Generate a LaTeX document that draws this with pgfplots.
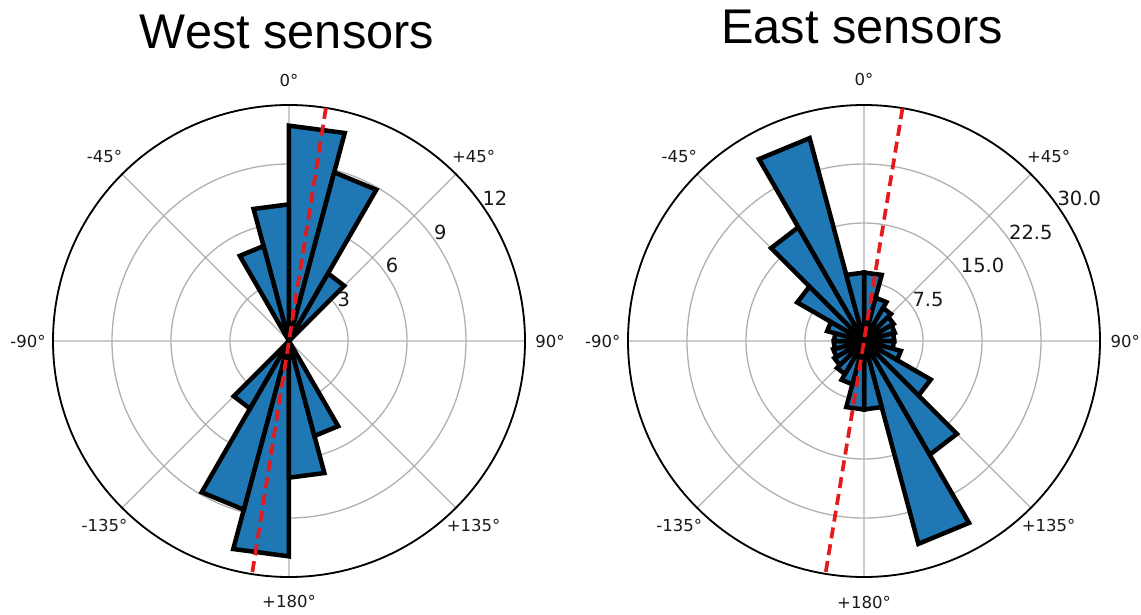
\documentclass[border=0pt]{standalone}
\usepackage{pgfplots}
\pgfplotsset{compat=1.18}
\usepgfplotslibrary{polar}
\usepackage{fontspec}
\setmainfont{DejaVu Sans}
\newfontfamily\titlefont{Liberation Sans}
\definecolor{barblue}{RGB}{31,119,180}
\definecolor{gridgray}{RGB}{176,176,176}
\definecolor{dashred}{RGB}{228,26,28}
\pgfplotsset{
  rose/.style={
    scale only axis, width=472pt, height=472pt,
    anchor=center, clip=false,
    xmin=0, xmax=360, ymin=0,
    xtick={0,45,...,315}, xticklabels={}, yticklabels={},
    major tick length=0pt,
    xmajorgrids, ymajorgrids,
    grid style={gridgray, line width=1.3pt},
    separate axis lines,
    x axis line style={black, line width=1.8pt},
    y axis line style={draw=none},
  },
  sector/.style={fill=barblue, draw=black, line width=4.5pt, line join=miter},
  meanline/.style={dashred, line width=3.7pt, dash pattern=on 11pt off 6pt},
}
\tikzset{
  anglab/.style={font=\fontsize{16.5pt}{19pt}\selectfont, text=black!90},
  radlab/.style={anchor=south west, inner sep=0pt, font=\fontsize{19.5pt}{22pt}\selectfont, text=black!90},
}
\begin{document}
\begin{tikzpicture}
% ---------------- West ----------------
\begin{polaraxis}[rose, at={(289pt,273pt)}, ymax=12, ytick={3,6,9,12}]
\addplot[sector] coordinates {(90,0) (90,10.95) (75,10.95) (75,0)} -- cycle;
\addplot[sector] coordinates {(75,0) (75,8.88) (60,8.88) (60,0)} -- cycle;
\addplot[sector] coordinates {(60,0) (60,3.97) (45,3.97) (45,0)} -- cycle;
\addplot[sector] coordinates {(105,0) (105,6.95) (90,6.95) (90,0)} -- cycle;
\addplot[sector] coordinates {(120,0) (120,5.0) (105,5.0) (105,0)} -- cycle;
\addplot[sector] coordinates {(270,0) (270,10.95) (255,10.95) (255,0)} -- cycle;
\addplot[sector] coordinates {(255,0) (255,8.88) (240,8.88) (240,0)} -- cycle;
\addplot[sector] coordinates {(240,0) (240,3.97) (225,3.97) (225,0)} -- cycle;
\addplot[sector] coordinates {(285,0) (285,6.95) (270,6.95) (270,0)} -- cycle;
\addplot[sector] coordinates {(300,0) (300,5.0) (285,5.0) (285,0)} -- cycle;
\addplot[meanline] coordinates {(81,12) (261,12)};
\node[anglab] at (axis cs:90,13.27) {0°};
\node[anglab] at (axis cs:45,13.27) {+45°};
\node[anglab] at (axis cs:0,13.27) {90°};
\node[anglab] at (axis cs:315,13.27) {+135°};
\node[anglab] at (axis cs:270,13.27) {+180°};
\node[anglab] at (axis cs:225,13.27) {-135°};
\node[anglab] at (axis cs:180,13.27) {-90°};
\node[anglab] at (axis cs:135,13.27) {-45°};
\node[radlab] at (axis cs:35,3) {3};
\node[radlab] at (axis cs:35,6) {6};
\node[radlab] at (axis cs:35,9) {9};
\node[radlab] at (axis cs:35,12) {12};
\end{polaraxis}
% ---------------- East ----------------
\begin{polaraxis}[rose, at={(864pt,273pt)}, ymax=30, ytick={7.5,15,22.5,30}]
\addplot[sector] coordinates {(90,0) (90,8.7) (75,8.7) (75,0)} -- cycle;
\addplot[sector] coordinates {(75,0) (75,5.7) (60,5.7) (60,0)} -- cycle;
\addplot[sector] coordinates {(60,0) (60,4.85) (45,4.85) (45,0)} -- cycle;
\addplot[sector] coordinates {(45,0) (45,4.35) (30,4.35) (30,0)} -- cycle;
\addplot[sector] coordinates {(30,0) (30,4.05) (15,4.05) (15,0)} -- cycle;
\addplot[sector] coordinates {(15,0) (15,3.85) (0,3.85) (0,0)} -- cycle;
\addplot[sector] coordinates {(0,0) (0,3.8) (-15,3.8) (-15,0)} -- cycle;
\addplot[sector] coordinates {(345,0) (345,4.85) (330,4.85) (330,0)} -- cycle;
\addplot[sector] coordinates {(330,0) (330,9.8) (315,9.8) (315,0)} -- cycle;
\addplot[sector] coordinates {(315,0) (315,16.7) (300,16.7) (300,0)} -- cycle;
\addplot[sector] coordinates {(300,0) (300,26.7) (285,26.7) (285,0)} -- cycle;
\addplot[sector] coordinates {(285,0) (285,8.7) (270,8.7) (270,0)} -- cycle;
\addplot[sector] coordinates {(270,0) (270,8.7) (255,8.7) (255,0)} -- cycle;
\addplot[sector] coordinates {(255,0) (255,5.7) (240,5.7) (240,0)} -- cycle;
\addplot[sector] coordinates {(240,0) (240,4.85) (225,4.85) (225,0)} -- cycle;
\addplot[sector] coordinates {(225,0) (225,4.35) (210,4.35) (210,0)} -- cycle;
\addplot[sector] coordinates {(210,0) (210,4.05) (195,4.05) (195,0)} -- cycle;
\addplot[sector] coordinates {(195,0) (195,3.85) (180,3.85) (180,0)} -- cycle;
\addplot[sector] coordinates {(180,0) (180,3.8) (165,3.8) (165,0)} -- cycle;
\addplot[sector] coordinates {(165,0) (165,4.85) (150,4.85) (150,0)} -- cycle;
\addplot[sector] coordinates {(150,0) (150,9.8) (135,9.8) (135,0)} -- cycle;
\addplot[sector] coordinates {(135,0) (135,16.7) (120,16.7) (120,0)} -- cycle;
\addplot[sector] coordinates {(120,0) (120,26.7) (105,26.7) (105,0)} -- cycle;
\addplot[sector] coordinates {(105,0) (105,8.7) (90,8.7) (90,0)} -- cycle;
\addplot[meanline] coordinates {(80.6,30) (260.6,30)};
\node[anglab] at (axis cs:90,33.2) {0°};
\node[anglab] at (axis cs:45,33.2) {+45°};
\node[anglab] at (axis cs:0,33.2) {90°};
\node[anglab] at (axis cs:315,33.2) {+135°};
\node[anglab] at (axis cs:270,33.2) {+180°};
\node[anglab] at (axis cs:225,33.2) {-135°};
\node[anglab] at (axis cs:180,33.2) {-90°};
\node[anglab] at (axis cs:135,33.2) {-45°};
\node[radlab] at (axis cs:35,7.5) {7.5};
\node[radlab] at (axis cs:35,15) {15.0};
\node[radlab] at (axis cs:35,22.5) {22.5};
\node[radlab] at (axis cs:35,30) {30.0};
\end{polaraxis}
\node[font=\titlefont\fontsize{48.7pt}{58pt}\selectfont, anchor=base] at (287pt,565pt) {West sensors};
\node[font=\titlefont\fontsize{48.7pt}{58pt}\selectfont, anchor=base] at (862pt,570pt) {East sensors};
\pgfresetboundingbox
\useasboundingbox (0pt,0pt) rectangle (1141pt,614pt);
\end{tikzpicture}
\end{document}
